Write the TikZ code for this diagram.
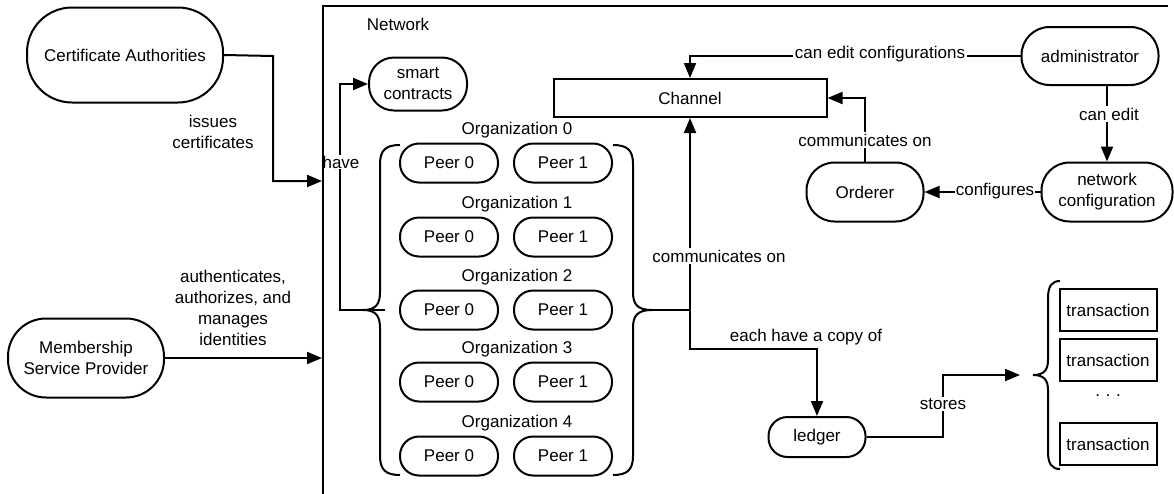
\documentclass[tikz,border=0pt]{standalone}
\usepackage{fontspec}
\setmainfont{Liberation Sans}
\usetikzlibrary{arrows.meta}
\begin{document}
\begin{tikzpicture}[x=1pt,y=-1pt, line width=2pt,
  font=\fontsize{17}{21}\selectfont,
  pill/.style={draw, rounded corners=#1, inner sep=0pt, align=center},
  peer/.style={pill=19, minimum width=98pt, minimum height=39pt},
  box/.style={draw, inner sep=0pt, align=center},
  tx/.style={box, minimum width=97pt, minimum height=42pt},
  arr/.style={-{Triangle[length=15pt,width=12pt]}},
  lbl/.style={fill=white, inner sep=1.5pt, align=center}]
\useasboundingbox (0,0) rectangle (1174,493);

% outside actors
\node[pill=45, minimum width=196pt, minimum height=95pt] (ca) at (125,55) {Certificate Authorities};
\node[pill=38, minimum width=156pt, minimum height=79pt] (msp) at (86,358) {Membership\\Service Provider};

% network contents
\node (netlabel) at (398,24) {Network};
\node[pill=25, minimum width=98pt, minimum height=53pt] (sc) at (418,84) {smart\\contracts};
\node[box, minimum width=273pt, minimum height=38pt] (ch) at (690,98) {Channel};
\node[pill=28, minimum width=137pt, minimum height=58pt] (adm) at (1090,56) {administrator};
\node[pill=28, minimum width=131pt, minimum height=59pt] (nc) at (1107,192) {network\\configuration};
\node[pill=28, minimum width=117pt, minimum height=59pt] (ord) at (865,192) {Orderer};
\node[pill=19, minimum width=97pt, minimum height=40pt] (led) at (817,437) {ledger};

% organizations and their peers
\foreach \i/\y in {0/163,1/237,2/310,3/382,4/456} {
  \node (org\i) at (517,\y-33) {Organization \i};
  \node[peer] (pa\i) at (449,\y) {Peer 0};
  \node[peer] (pb\i) at (563,\y) {Peer 1};
}

% transactions
\node[tx] (tx1) at (1108,310) {transaction};
\node[tx] (tx2) at (1108,360) {transaction};
\node (txdots) at (1108,396) {.\,\,.\,\,.};
\node[tx] (tx3) at (1108,444) {transaction};

% braces
\draw (400,145) .. controls (386,145) and (380,150) .. (380,164) -- (380,292)
  .. controls (380,304) and (376,310) .. (363,310)
  .. controls (376,310) and (380,316) .. (380,328) -- (380,456)
  .. controls (380,470) and (386,475) .. (400,475);
\draw (613,145) .. controls (627,145) and (633,150) .. (633,164) -- (633,292)
  .. controls (633,304) and (637,310) .. (652,310)
  .. controls (637,310) and (633,316) .. (633,328) -- (633,456)
  .. controls (633,470) and (627,475) .. (613,475);
\draw (1060,281) .. controls (1052,281) and (1048,286) .. (1048,298) -- (1048,360)
  .. controls (1048,370) and (1044,375) .. (1033,375)
  .. controls (1044,375) and (1048,380) .. (1048,390) -- (1048,452)
  .. controls (1048,464) and (1052,469) .. (1060,469);
\coordinate (lbrace) at (385,310);
\coordinate (rbrace) at (652,310);
\coordinate (txbrace) at (1020,375);

% connector ends on the network border
\coordinate (netca) at (322,181);
\coordinate (netmsp) at (322,358);
\coordinate (split) at (690,310);
\coordinate (copy) at (817,349);
\coordinate (storebend) at (943,437);

% connectors
\draw[arr] (ca.east) -- (273,56) |- (netca);
\node[align=center] (issues) at (213,132) {issues\\certificates};
\draw[arr] (msp.east) -- (netmsp);
\node[align=center] (auth) at (233,308) {authenticates,\\authorizes, and\\manages\\identities};

\draw[arr] (lbrace) -- (340,310) |- (sc.west);
\node[lbl, inner sep=0.5pt] (have) at (341,162) {have};

\draw (rbrace) -- (split);
\draw[arr] (split) -- (ch.south);
\node[lbl] (comm1) at (719,256) {communicates on};
\draw[arr] (split) |- (copy) -- (led.north);
\node (eachcopy) at (806,337) {each have a copy of};

\draw[arr] (adm.west) -| (ch.north);
\node[lbl] (canedit1) at (880,54) {can edit configurations};
\draw[arr] (nc.north |- adm.south) -- (nc.north);
\node[lbl] (canedit2) at (1109,114) {can edit};
\draw[arr] (nc.west) -- (ord.east);
\node[lbl, inner sep=0.5pt] (conf) at (995,191) {configures};
\draw[arr] (ord.north) |- (ch.east);
\node[lbl] (comm2) at (865,140) {communicates on};
\draw[arr] (led.east) -- (storebend) |- (txbrace);
\node[lbl] (stores) at (943,404) {stores};

% network frame
\draw (1168,6) -- (323,6) -- (323,500);
\end{tikzpicture}
\end{document}
